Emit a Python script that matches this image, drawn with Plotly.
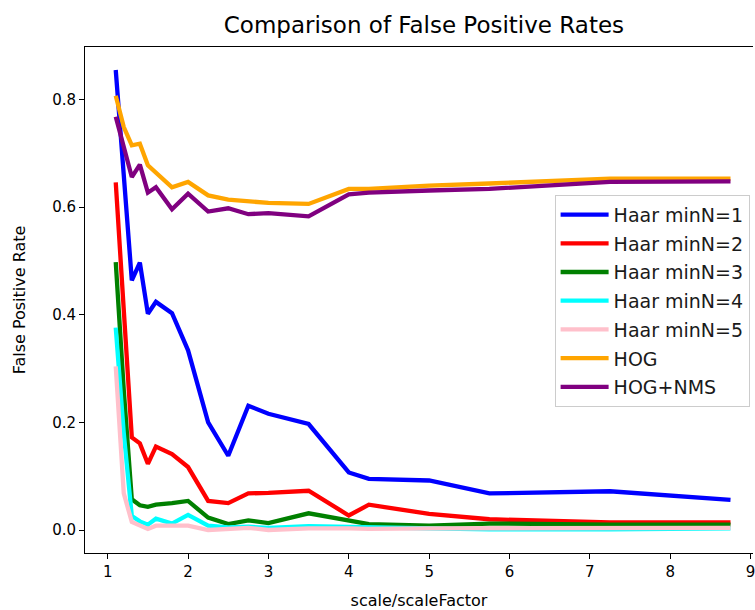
import plotly.graph_objects as go

# scale / scaleFactor values shared by every detector run
scale = [1.1, 1.2, 1.3, 1.4, 1.5, 1.6, 1.8, 2.0, 2.25, 2.5, 2.75, 3.0,
         3.5, 4.0, 4.25, 5.0, 5.75, 7.25, 8.75]

# false positive rate per detector configuration
haar_min1 = [0.855, 0.66, 0.464, 0.497, 0.402, 0.424, 0.403, 0.334, 0.200, 0.138,
             0.231, 0.216, 0.197, 0.107, 0.095, 0.092, 0.068, 0.072, 0.056]
haar_min2 = [0.646, 0.41, 0.172, 0.161, 0.123, 0.155, 0.141, 0.117, 0.054, 0.050,
             0.068, 0.069, 0.073, 0.027, 0.047, 0.030, 0.020, 0.014, 0.014]
haar_min3 = [0.498, 0.26, 0.057, 0.046, 0.043, 0.047, 0.050, 0.054, 0.023, 0.011,
             0.018, 0.013, 0.031, 0.018, 0.011, 0.008, 0.012, 0.010, 0.010]
haar_min4 = [0.376, 0.18, 0.026, 0.016, 0.010, 0.021, 0.012, 0.028, 0.008, 0.005,
             0.006, 0.004, 0.007, 0.006, 0.005, 0.003, 0.001, 0.001, 0.003]
haar_min5 = [0.304, 0.068, 0.015, 0.008, 0.002, 0.008, 0.007, 0.008, 0.000, 0.003,
             0.004, 0.000, 0.003, 0.003, 0.002, 0.003, 0.003, 0.004, 0.004]
hog = [0.807, 0.749, 0.715, 0.718, 0.678, 0.665, 0.637, 0.647, 0.622, 0.614,
       0.611, 0.608, 0.606, 0.634, 0.634, 0.640, 0.644, 0.653, 0.653]
hog_nms = [0.768, 0.712, 0.656, 0.679, 0.627, 0.637, 0.596, 0.625, 0.592, 0.598,
           0.587, 0.589, 0.583, 0.624, 0.627, 0.631, 0.634, 0.647, 0.648]

series = [
    ("Haar minN=1", haar_min1, "#0000ff"),
    ("Haar minN=2", haar_min2, "#ff0000"),
    ("Haar minN=3", haar_min3, "#008000"),
    ("Haar minN=4", haar_min4, "#00ffff"),
    ("Haar minN=5", haar_min5, "#ffc0cb"),
    ("HOG", hog, "#ffa500"),
    ("HOG+NMS", hog_nms, "#800080"),
]

FONT = "DejaVu Sans"

fig = go.Figure()
for name, vals, color in series:
    fig.add_trace(go.Scatter(
        x=scale, y=vals, mode="lines", name=name, legendgroup=name,
        line=dict(color=color, width=4.3),
    ))

fig.update_layout(
    width=755, height=610,
    margin=dict(l=85, r=0, t=47, b=57),
    paper_bgcolor="white", plot_bgcolor="white",
    font=dict(family=FONT, size=15, color="black"),
    title=dict(text="Comparison of False Positive Rates",
               font=dict(family=FONT, size=23, color="black"),
               x=0.5615, xanchor="center", y=1 - 25 / 610, yanchor="middle"),
    showlegend=True,
    legend=dict(x=0.703, y=0.708, xanchor="left", yanchor="top",
                bgcolor="rgba(255,255,255,0.8)", bordercolor="#cccccc",
                borderwidth=1, font=dict(family=FONT, size=19, color="#1a1a1a"),
                tracegroupgap=1, itemwidth=48),
)

fig.update_xaxes(
    range=[0.7175, 9.03], tickvals=list(range(1, 10)),
    ticklabeloverflow="allow",
    showline=True, linecolor="black", linewidth=1, mirror=True,
    ticks="outside", ticklen=5, tickwidth=1, tickcolor="black",
    showgrid=False, zeroline=False,
    title=dict(text="scale/scaleFactor", font=dict(family=FONT, size=16), standoff=14),
)
fig.update_yaxes(
    range=[-0.04275, 0.89775],
    tickvals=[0.0, 0.2, 0.4, 0.6, 0.8],
    ticktext=["0.0", "0.2", "0.4", "0.6", "0.8"],
    showline=True, linecolor="black", linewidth=1,
    ticks="outside", ticklen=5, tickwidth=1, tickcolor="black",
    showgrid=False, zeroline=False,
    title=dict(text="False Positive Rate", font=dict(family=FONT, size=16), standoff=22),
)

fig.write_html("out.html")
